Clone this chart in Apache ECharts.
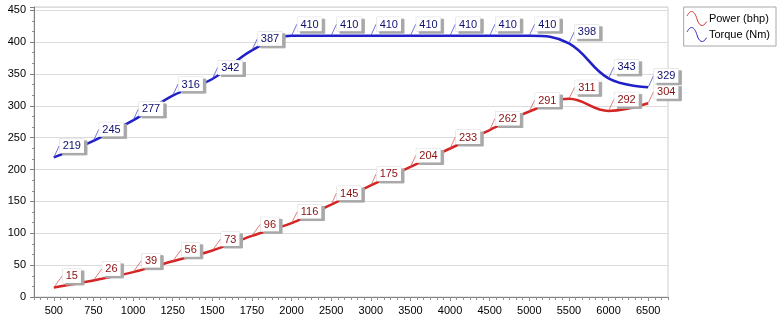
<!DOCTYPE html>
<html>
<head>
<meta charset="utf-8">
<script src="https://cdn.jsdelivr.net/npm/echarts@6/dist/echarts.min.js"></script>
<style>html,body{margin:0;padding:0;background:#fff;}#c{width:784px;height:326px;}</style>
</head>
<body>
<div id="c"></div>
<script>
var rpm = ['500','750','1000','1250','1500','1750','2000','2500','3000','3500','4000','4500','5000','5500','6000','6500'];
var power = [15,26,39,56,73,96,116,145,175,204,233,262,291,311,292,304];
var torque = [219,245,277,316,342,387,410,410,410,410,410,410,410,398,343,329];
var yTicks = [0,50,100,150,200,250,300,350,400,450];

var FONT = 'Liberation Sans, Arial, sans-serif';
var wave = 'path://M0,4 C4,-4 8,0 10,7 C12,14 16,17 20,10';

function labelCfg(col){
  return {
    show: true, position: 'top', distance: 4,
    color: col, fontFamily: FONT, fontSize: 11,
    backgroundColor: '#ffffff', borderColor: '#d8d8d8', borderWidth: 0.5,
    padding: [2,3,1,3],
    shadowColor: '#a8a8a8', shadowBlur: 0, shadowOffsetX: 3, shadowOffsetY: 2
  };
}

var chart = echarts.init(document.getElementById('c'), null, {renderer:'canvas'});
chart.setOption({
  animation: false,
  backgroundColor: '#ffffff',
  textStyle: {fontFamily: FONT},
  grid: {left: 34, right: 116, top: 7, bottom: 29, show: true, borderColor: '#cfcfcf', borderWidth: 1, backgroundColor: '#fff'},
  legend: {
    right: 8, top: 7, orient: 'vertical', itemWidth: 20, itemHeight: 14, itemGap: 1,
    padding: [4,6,4,3], borderColor: '#a8a8a8', borderWidth: 1, backgroundColor: '#fff',
    textStyle: {fontFamily: FONT, fontSize: 11, color: '#000', padding: [0,0,0,-3]},
    data: [
      {name: 'Power (bhp)', icon: wave, itemStyle: {color: 'rgba(0,0,0,0)', borderColor: '#d43030', borderWidth: 1}},
      {name: 'Torque (Nm)', icon: wave, itemStyle: {color: 'rgba(0,0,0,0)', borderColor: '#2a2ac0', borderWidth: 1}}
    ]
  },
  xAxis: [{
    type: 'category', data: rpm, boundaryGap: true,
    axisLine: {lineStyle: {color: '#808080', width: 1}},
    axisTick: {show: true, alignWithLabel: true, length: 4, lineStyle: {color: '#808080'}},
    axisLabel: {color: '#000', fontFamily: FONT, fontSize: 11, margin: 8, interval: 0},
    splitLine: {show: false}
  },{
    type: 'value', min: 0, max: 96, interval: 1, position: 'bottom',
    axisLine: {show: false},
    axisTick: {show: true, length: 3, lineStyle: {color: '#909090'}},
    axisLabel: {show: false}, splitLine: {show: false}
  }],
  yAxis: {
    type: 'value', min: 0, max: 455, interval: 50,
    axisLine: {show: true, lineStyle: {color: '#808080'}},
    axisTick: {show: true, length: 4, lineStyle: {color: '#808080'}},
    minorTick: {show: true, splitNumber: 3, length: 2, lineStyle: {color: '#909090'}},
    axisLabel: {color: '#000', fontFamily: FONT, fontSize: 11, margin: 8, showMaxLabel: false,
      formatter: function(v){ return yTicks.indexOf(v) >= 0 ? String(v) : ''; }},
    splitLine: {show: true, lineStyle: {color: '#dcdcdc', width: 1}}
  },
  series: [{
    name: 'Power (bhp)', type: 'line', data: power, smooth: 0.4,
    symbol: 'circle', symbolSize: 1, showSymbol: true,
    lineStyle: {color: '#d42424', width: 2.5}, itemStyle: {color: 'rgba(0,0,0,0)'},
    label: labelCfg('#8a1010'),
    labelLayout: {dx: 18, dy: 0},
    labelLine: {show: true, lineStyle: {color: '#d46060', width: 0.8}}
  },{
    name: 'Torque (Nm)', type: 'line', data: torque, smooth: 0.4,
    symbol: 'circle', symbolSize: 1, showSymbol: true,
    lineStyle: {color: '#2020c8', width: 2.5}, itemStyle: {color: 'rgba(0,0,0,0)'},
    label: labelCfg('#101070'),
    labelLayout: {dx: 18, dy: 0},
    labelLine: {show: true, lineStyle: {color: '#5050d0', width: 0.8}}
  }]
});
</script>
</body>
</html>
